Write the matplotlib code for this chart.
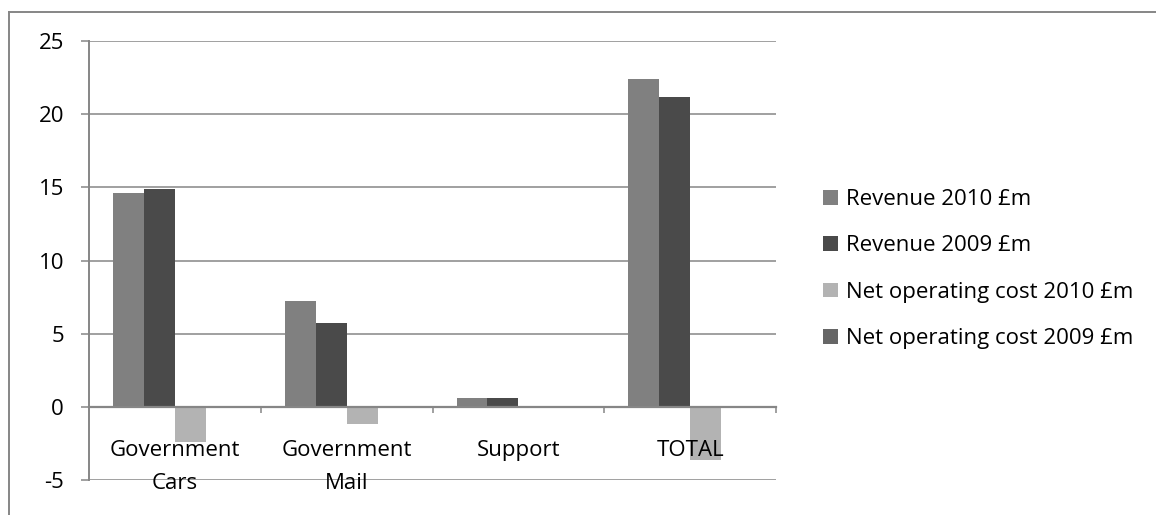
import numpy as np
import matplotlib.pyplot as plt
from matplotlib.lines import Line2D

plt.rcParams['font.family'] = ['Open Sans', 'DejaVu Sans']

categories = ['Government\nCars', 'Government\nMail', 'Support', 'TOTAL']
series_names = ['Revenue 2010 £m', 'Revenue 2009 £m',
                'Net operating cost 2010 £m', 'Net operating cost 2009 £m']
rev_2010 = [14.6, 7.2, 0.6, 22.4]
rev_2009 = [14.9, 5.7, 0.6, 21.2]
noc_2010 = [-2.4, -1.2, 0.0, -3.6]
noc_2009 = [0.0, 0.0, 0.0, 0.0]
yticks = [-5, 0, 5, 10, 15, 20, 25]

colors = ['#808080', '#4a4a4a', '#b3b3b3', '#666666']
grid_c = '#868686'
fs = 16

fig = plt.figure(figsize=(11.56, 5.15), dpi=100)
ax = fig.add_axes([89/1156, 1-480/515, 687/1156, 439/515])

x = np.arange(len(categories))
w = 0.18
for j, vals in enumerate([rev_2010, rev_2009, noc_2010, noc_2009]):
    ax.bar(x + (j - 1.5)*w, vals, w, color=colors[j], label=series_names[j], zorder=2)

ax.set_xlim(-0.5, 3.5)
ax.set_ylim(-5, 25)
ax.set_yticks(yticks)
ax.set_yticklabels([str(v) for v in yticks], fontsize=fs)
ax.yaxis.grid(True, color=grid_c, lw=1.1, zorder=0)
ax.set_axisbelow(True)
ax.tick_params(axis='y', length=6, width=1.1, color=grid_c, pad=12)

ax.spines['top'].set_visible(False)
ax.spines['right'].set_visible(False)
ax.spines['left'].set_color(grid_c)
ax.spines['left'].set_linewidth(1.4)
ax.spines['bottom'].set_position(('data', 0))
ax.spines['bottom'].set_color(grid_c)
ax.spines['bottom'].set_linewidth(1.6)

ax.set_xticks([0.5, 1.5, 2.5, 3.5])
ax.set_xticklabels([])
ax.tick_params(axis='x', which='major', length=4, width=1.1, color=grid_c)

# category labels drawn above the bars
for i, lab in enumerate(categories):
    ax.annotate(lab, xy=(i, 0), xytext=(0, -24), textcoords='offset points',
                ha='center', va='top', fontsize=fs, linespacing=1.74, zorder=5,
                annotation_clip=False)

fig.legend(loc='upper left', bbox_to_anchor=(812/1156, 1-178/515), frameon=False,
           fontsize=fs, handlelength=0.65, handleheight=0.65, handletextpad=0.4,
           labelspacing=1.14, borderpad=0)

# outer chart frame
fig.add_artist(Line2D([8.5/1156, 8.5/1156], [0, 1-12/515], color=grid_c, lw=1.4,
                      transform=fig.transFigure))
fig.add_artist(Line2D([8.5/1156, 1], [1-12/515, 1-12/515], color=grid_c, lw=1.4,
                      transform=fig.transFigure))

fig.savefig('out.png', dpi=100)
